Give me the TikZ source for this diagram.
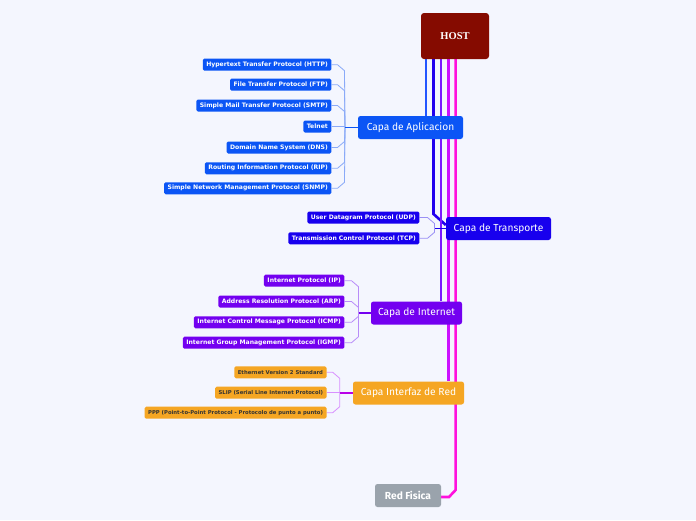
\documentclass[tikz,border=0pt]{standalone}
\usepackage{fontspec}
\setmainfont{Fira Sans}
\newfontfamily\hostfont{Liberation Serif}
\newfontfamily\kidfont{DejaVu Sans}
\pgfdeclarelayer{back}
\pgfdeclarelayer{lines}
\pgfsetlayers{back,lines,main}
\definecolor{bgc}{HTML}{F4F6FE}
\definecolor{hostc}{HTML}{850B00}
\definecolor{appc}{HTML}{0B55F5}
\definecolor{appl}{HTML}{8AAAF8}
\definecolor{trc}{HTML}{1800EE}
\definecolor{trl}{HTML}{9A90F5}
\definecolor{inc}{HTML}{7300F0}
\definecolor{inl}{HTML}{B88CF8}
\definecolor{ifc}{HTML}{F5A623}
\definecolor{ifl}{HTML}{D890FF}
\definecolor{ifk}{HTML}{B800E8}
\definecolor{rfc}{HTML}{9AA3AC}
\definecolor{tA}{HTML}{2255FF}
\definecolor{tB}{HTML}{2200EE}
\definecolor{tC}{HTML}{7A1AFF}
\definecolor{tD}{HTML}{CC11FF}
\definecolor{tE}{HTML}{FF11DD}
\tikzset{
  childbox/.style={rounded corners=1.5pt, inner xsep=3.5pt, inner ysep=0pt,
    minimum height=12pt, font=\kidfont\fontsize{6.1}{7}\selectfont\bfseries, text=white, anchor=east},
  orangekid/.style={childbox, fill=ifc, text=black!80, font=\kidfont\fontsize{5.3}{7}\selectfont\bfseries},
  parentbox/.style={rounded corners=2.5pt, minimum height=23pt, inner xsep=3pt,
    font=\fontsize{10.2}{11}\selectfont, text=white},
  trunk/.style={line width=2.6pt},
  twig/.style={line width=0.8pt},
  stem/.style={line width=1.3pt},
}
\begin{document}
\begin{tikzpicture}[x=1pt,y=-1pt]
\begin{pgfonlayer}{back}
\fill[bgc] (0,0) rectangle (696,520);
\end{pgfonlayer}
\useasboundingbox (0,0) rectangle (696,520);

% HOST
\node[fill=hostc, rounded corners=3pt, minimum width=68pt, minimum height=46pt,
  font=\hostfont\fontsize{10.5}{12}\selectfont\bfseries, text=white] (host) at (455,36) {HOST};

% layer nodes
\node[parentbox, fill=appc, minimum width=105pt] (app) at (410.5,127.5) {Capa de Aplicacion};
\node[parentbox, fill=trc, minimum width=105pt] (tra) at (498.5,228.5) {Capa de Transporte};
\node[parentbox, fill=inc, minimum width=91pt] (int) at (416.5,313) {Capa de Internet};
\node[parentbox, fill=ifc, minimum width=111pt] (ifz) at (408.5,393) {Capa Interfaz de Red};
\node[parentbox, fill=rfc, minimum width=66pt, font=\fontsize{10.2}{11}\selectfont\bfseries] (rf) at (408,495.5) {Red Fisica};

% application children
\node[childbox, fill=appc] (http) at (331.5,64.7) {Hypertext Transfer Protocol (HTTP)};
\node[childbox, fill=appc] (ftp) at (331.5,84.7) {File Transfer Protocol (FTP)};
\node[childbox, fill=appc] (smtp) at (331.5,105.5) {Simple Mail Transfer Protocol (SMTP)};
\node[childbox, fill=appc] (telnet) at (331.5,126.5) {Telnet};
\node[childbox, fill=appc] (dns) at (331.5,147.5) {Domain Name System (DNS)};
\node[childbox, fill=appc] (rip) at (331.5,168.3) {Routing Information Protocol (RIP)};
\node[childbox, fill=appc] (snmp) at (331.5,188.3) {Simple Network Management Protocol (SNMP)};

% transport children
\node[childbox, fill=trc] (udp) at (419.5,217.5) {User Datagram Protocol (UDP)};
\node[childbox, fill=trc] (tcp) at (419.5,238.3) {Transmission Control Protocol (TCP)};

% internet children
\node[childbox, fill=inc] (ip) at (344.5,280.7) {Internet Protocol (IP)};
\node[childbox, fill=inc] (arp) at (344.5,301.5) {Address Resolution Protocol (ARP)};
\node[childbox, fill=inc] (icmp) at (344.5,322.3) {Internet Control Message Protocol (ICMP)};
\node[childbox, fill=inc] (igmp) at (344.5,342.7) {Internet Group Management Protocol (IGMP)};

% interface children
\node[orangekid] (eth) at (326.7,372.3) {Ethernet Version 2 Standard};
\node[orangekid] (slip) at (326.7,392.7) {SLIP (Serial Line Internet Protocol)};
\node[orangekid] (ppp) at (326.7,412.7) {PPP (Point-to-Point Protocol - Protocolo de punto a punto)};

\begin{pgfonlayer}{lines}
% trunks
\draw[trunk, tA] (host.south -| 426,0) -- (app.north -| 426,0);
\draw[trunk, tB] (host.south -| 433.5,0) -- (433.5,214) -- (tra.west |- 0,225);
\draw[trunk, tC] (host.south -| 441,0) -- (int.north -| 441,0);
\draw[trunk, tD] (host.south -| 448.3,0) -- (ifz.north -| 448.3,0);
\draw[trunk, tE] (host.south -| 455.6,0) -- (455.6,490) -- (449,497) -- (rf.east |- 0,497);

% application bracket
\foreach \n in {http,ftp,smtp}{
  \draw[twig, appl] (\n.east) -- ++(6,0) -- ++(7,6) -- (345,127.5);
}
\foreach \n in {dns,rip,snmp}{
  \draw[twig, appl] (\n.east) -- ++(6,0) -- ++(7,-6) -- (345,127.5);
}
\draw[twig, appl] (telnet.east) -- (345,126.5);
\draw[stem, appc] (345,127.5) -- (app.west);

% transport bracket
\draw[twig, trl] (udp.east) -- ++(8,0) -- ++(7,6) -- (434.5,228.5);
\draw[twig, trl] (tcp.east) -- ++(8,0) -- ++(7,-6) -- (434.5,228.5);
\draw[stem, trc] (434.5,228.5) -- (tra.west);

% internet bracket
\foreach \n in {ip,arp}{
  \draw[twig, inl] (\n.east) -- ++(7,0) -- ++(7,6) -- (358.5,313);
}
\foreach \n in {icmp,igmp}{
  \draw[twig, inl] (\n.east) -- ++(7,0) -- ++(7,-6) -- (358.5,313);
}
\draw[stem, inc] (358.5,313) -- (int.west);

% interface bracket
\draw[twig, ifl] (eth.east) -- ++(6,0) -- ++(7,6) -- (339.7,393);
\draw[twig, ifl] (ppp.east) -- ++(6,0) -- ++(7,-6) -- (339.7,393);
\draw[twig, ifl] (slip.east) -- (339.7,392.7);
\draw[stem, ifk] (339.7,393) -- (ifz.west);
\end{pgfonlayer}
\end{tikzpicture}
\end{document}
